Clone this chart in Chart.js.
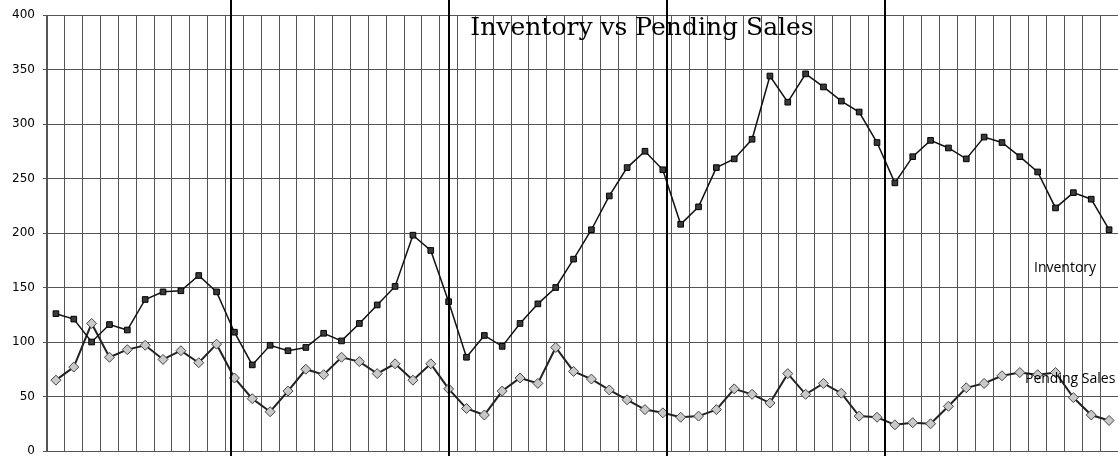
<!DOCTYPE html>
<html>
<head>
<meta charset="utf-8">
<script src="https://cdn.jsdelivr.net/npm/chart.js@4/dist/chart.umd.min.js"></script>
<style>
  html, body { margin: 0; padding: 0; background: #fff; }
  #wrap { width: 1118px; height: 456px; }
</style>
</head>
<body>
<div id="wrap"><canvas id="c" width="1118" height="456"></canvas></div>
<script>
const months = Array.from({length: 60}, (_, i) => 'M' + (i + 1));
const inventory = [126,121,100,116,111,139,146,147,161,146,
  109,79,97,92,95,108,101,117,134,151,198,184,
  137,86,106,96,117,135,150,176,203,234,260,275,
  258,208,224,260,268,286,344,320,346,334,321,311,
  283,246,270,285,278,268,288,283,270,256,223,237,
  231,203];
const pending = [65,77,117,86,93,97,84,92,81,98,
  67,48,36,55,75,70,86,82,71,80,65,80,
  57,39,33,55,67,62,95,73,66,56,47,38,
  35,31,32,38,57,52,44,71,52,62,53,32,
  31,24,26,25,41,58,62,69,72,70,72,49,
  33,28];
const yearBreaks = [9.8, 22.02, 34.23, 46.44];
const yTicks = [0, 50, 100, 150, 200, 250, 300, 350, 400];
const titleText = 'Inventory vs Pending Sales';
const seriesNames = ['Inventory', 'Pending Sales'];
const seriesLabelValues = [168, 66];

const overlay = {
  id: 'overlay',
  afterDatasetsDraw(chart) {
    const ctx = chart.ctx;
    const xs = chart.scales.x, ys = chart.scales.y;
    ctx.save();
    ctx.strokeStyle = '#000';
    ctx.lineWidth = 2;
    yearBreaks.forEach(v => {
      const px = Math.round(xs.getPixelForValue(v));
      ctx.beginPath();
      ctx.moveTo(px, 0);
      ctx.lineTo(px, chart.height);
      ctx.stroke();
    });
    ctx.fillStyle = '#000';
    ctx.font = '25px "DejaVu Serif", "Liberation Serif", serif';
    ctx.textAlign = 'center';
    ctx.textBaseline = 'alphabetic';
    ctx.fillText(titleText, 642, 35);
    ctx.font = '14px "Open Sans", "Liberation Sans", sans-serif';
    ctx.textAlign = 'left';
    ctx.textBaseline = 'middle';
    ctx.fillText(seriesNames[0], 1034, ys.getPixelForValue(seriesLabelValues[0]));
    ctx.fillText(seriesNames[1], 1025, ys.getPixelForValue(seriesLabelValues[1]));
    ctx.restore();
  }
};

new Chart(document.getElementById('c'), {
  type: 'line',
  data: {
    labels: months,
    datasets: [
      {
        label: seriesNames[0],
        data: inventory,
        borderColor: '#111',
        borderWidth: 1.5,
        pointStyle: 'rect',
        pointRadius: 4,
        pointBackgroundColor: '#3a3a3a',
        pointBorderColor: '#000',
        pointBorderWidth: 1,
        tension: 0
      },
      {
        label: seriesNames[1],
        data: pending,
        borderColor: '#222',
        borderWidth: 2,
        pointStyle: 'rectRot',
        pointRadius: 5,
        pointBackgroundColor: '#c8c8c8',
        pointBorderColor: '#444',
        pointBorderWidth: 1,
        tension: 0
      }
    ]
  },
  options: {
    responsive: false,
    animation: false,
    layout: { autoPadding: false, padding: { top: 15, bottom: 5, left: 0, right: 0 } },
    plugins: {
      legend: { display: false },
      title: { display: false },
      tooltip: { enabled: false }
    },
    scales: {
      x: {
        offset: true,
        afterFit(scale) { scale.height = 0; scale.paddingLeft = 0; scale.paddingRight = 0; },
        ticks: { display: false },
        grid: { offset: true, color: '#555', lineWidth: 1, drawTicks: false },
        border: { display: true, color: '#555' }
      },
      y: {
        min: 0,
        max: 400,
        afterBuildTicks(scale) { scale.ticks = yTicks.map(v => ({value: v})); },
        afterFit(scale) { scale.width = 47; scale.paddingTop = 0; scale.paddingBottom = 0; },
        ticks: {
          color: '#000',
          font: { family: '"DejaVu Sans", sans-serif', size: 12 },
          padding: 8
        },
        grid: { color: '#555', lineWidth: 1, tickLength: 4 },
        border: { display: true, color: '#555' }
      }
    }
  },
  plugins: [overlay]
});
</script>
</body>
</html>
